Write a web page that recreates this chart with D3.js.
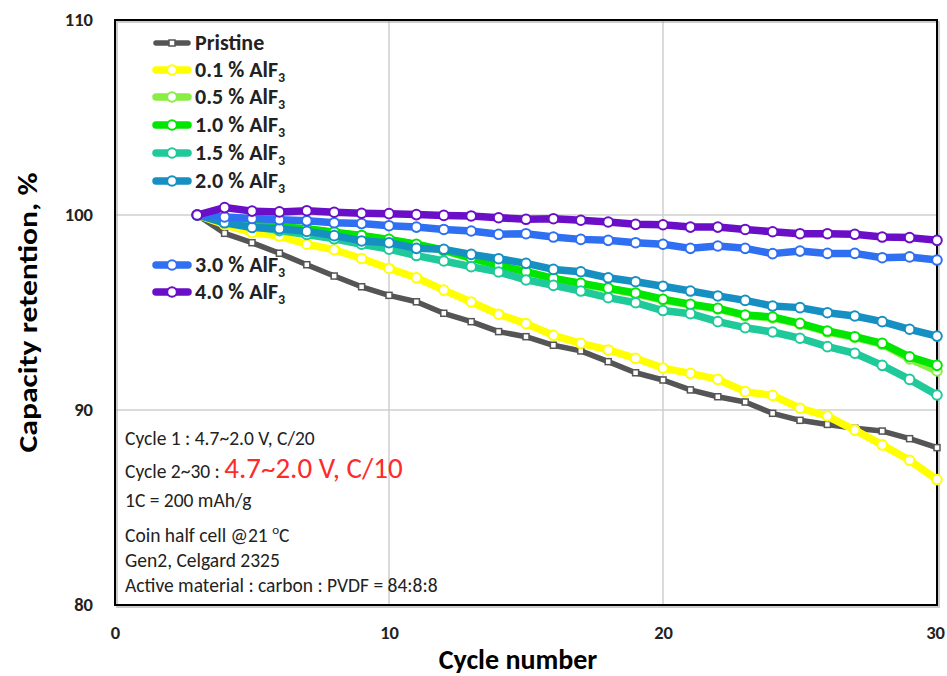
<!DOCTYPE html>
<html><head><meta charset="utf-8">
<script src="https://cdn.jsdelivr.net/npm/d3@7"></script>
<style>body{margin:0;background:#fff}svg{display:block}</style>
</head><body>
<script>
const cycles = d3.range(3, 31);
const pristine = [100,99.06,98.58,98.04,97.45,96.87,96.32,95.88,95.55,94.96,94.53,94.02,93.76,93.32,93.03,92.48,91.91,91.54,91.03,90.68,90.41,89.83,89.47,89.26,89.06,88.92,88.53,88.07];
const alf01 = [100,99.5,99.1,98.92,98.5,98.22,97.77,97.26,96.78,96.15,95.54,94.91,94.43,93.83,93.42,93.08,92.65,92.15,91.88,91.57,90.94,90.75,90.09,89.69,88.97,88.21,87.42,86.43];
const alf05 = [100,99.74,99.53,99.39,99.28,99.1,98.93,98.72,98.47,98.17,97.78,97.4,97.08,96.72,96.46,96.22,95.96,95.64,95.39,95.18,94.84,94.72,94.4,94.01,93.72,93.37,92.62,92.0];
const alf10 = [100,99.75,99.55,99.4,99.3,99.12,98.95,98.75,98.5,98.2,97.8,97.42,97.1,96.75,96.5,96.25,96.0,95.68,95.42,95.21,94.87,94.77,94.44,94.05,93.76,93.42,92.73,92.29];
const alf15 = [100,99.7,99.42,99.2,99.0,98.78,98.5,98.25,97.92,97.64,97.35,97.08,96.67,96.39,96.1,95.76,95.5,95.1,94.94,94.53,94.22,94.0,93.68,93.25,92.91,92.29,91.57,90.77];
const alf20 = [100,99.6,99.36,99.3,99.16,98.94,98.67,98.58,98.29,98.24,97.98,97.76,97.52,97.21,97.09,96.78,96.58,96.35,96.1,95.85,95.62,95.33,95.25,94.99,94.82,94.53,94.14,93.79];
const alf30 = [100,99.9,99.82,99.76,99.7,99.6,99.56,99.45,99.38,99.26,99.18,99.01,99.04,98.87,98.75,98.7,98.58,98.5,98.29,98.41,98.29,98.02,98.15,98.03,98.03,97.81,97.85,97.69];
const alf40 = [100,100.38,100.2,100.16,100.22,100.14,100.09,100.07,100.02,99.98,99.95,99.86,99.78,99.81,99.73,99.64,99.52,99.5,99.38,99.38,99.26,99.14,99.04,99.04,99.01,98.87,98.84,98.7];
const seriesNames = ["Pristine","0.1 % AlF","0.5 % AlF","1.0 % AlF","1.5 % AlF","2.0 % AlF","3.0 % AlF","4.0 % AlF"];
const seriesColors = ["#555555","#ffff00","#88ee44","#00e600","#1fc99a","#1690c2","#2f6ff2","#6a0ec8"];
const xTicks = [0,10,20,30];
const yTicks = [80,90,100,110];
const notes = ["Cycle 1 : 4.7~2.0 V, C/20","Cycle 2~30 : ","1C = 200 mAh/g","Coin half cell @21 ","Gen2, Celgard 2325","Active material : carbon : PVDF = 84:8:8"];
const redNote = "4.7~2.0 V, C/10";

const allData = [pristine,alf01,alf05,alf10,alf15,alf20,alf30,alf40];
const W = 947, H = 676;
const m = {l:115, t:20, r:937, b:605};
const FONT = "Carlito, Calibri, 'Open Sans', sans-serif";
const svg = d3.select("body").append("svg").attr("width",W).attr("height",H).style("font-family",FONT);
const x = d3.scaleLinear().domain([0,30]).range([m.l,m.r]);
const y = d3.scaleLinear().domain([80,110]).range([m.b,m.t]);

// gridlines
svg.append("g").selectAll("line").data([10,20]).join("line")
  .attr("x1",d=>x(d)).attr("x2",d=>x(d)).attr("y1",m.t).attr("y2",m.b)
  .attr("stroke","#cfcfcf").attr("stroke-width",1.5);
svg.append("g").selectAll("line").data([90,100]).join("line")
  .attr("y1",d=>y(d)).attr("y2",d=>y(d)).attr("x1",m.l).attr("x2",m.r)
  .attr("stroke","#cfcfcf").attr("stroke-width",1.5);

// shadow + frame
svg.append("rect").attr("x",m.l+2).attr("y",m.t+2).attr("width",m.r-m.l).attr("height",m.b-m.t)
  .attr("fill","none").attr("stroke","#999").attr("stroke-width",2).attr("opacity",0.5);
svg.append("rect").attr("x",m.l).attr("y",m.t).attr("width",m.r-m.l).attr("height",m.b-m.t)
  .attr("fill","none").attr("stroke","#000").attr("stroke-width",2);

// axes tick labels
const xAxis = d3.axisBottom(x).tickValues(xTicks).tickSize(0).tickPadding(0);
const gx = svg.append("g").attr("transform",`translate(0,${m.b+28})`).call(xAxis);
gx.select(".domain").remove();
gx.selectAll("text").attr("font-size",18.5).attr("font-weight","bold").attr("fill","#222").attr("font-family",FONT).attr("dy","0.35em");
gx.selectAll(".tick").filter(d=>d===30).select("text").attr("dx",-2);
const yAxis = d3.axisLeft(y).tickValues(yTicks).tickSize(0).tickPadding(0);
const gy = svg.append("g").attr("transform",`translate(${m.l-22},0)`).call(yAxis);
gy.select(".domain").remove();
gy.selectAll("text").attr("font-size",18.5).attr("font-weight","bold").attr("fill","#222").attr("font-family",FONT);

svg.append("text").attr("transform",`translate(37,${(m.t+m.b)/2}) rotate(-90)`)
  .attr("text-anchor","middle").attr("font-size",27).attr("font-weight","bold")
  .attr("textLength",280).attr("lengthAdjust","spacingAndGlyphs").text("Capacity retention, %");
svg.append("text").attr("x",518).attr("y",669).attr("text-anchor","middle")
  .attr("font-size",28).attr("font-weight","bold").text("Cycle number");

// series
const line = d3.line().x((d,i)=>x(cycles[i])).y(d=>y(d));
const plot = svg.append("g");
allData.forEach((data,k)=>{
  const g = plot.append("g");
  g.append("path").datum(data).attr("d",line).attr("fill","none")
    .attr("stroke",seriesColors[k]).attr("stroke-width",k===0?5.5:7.5).attr("stroke-linejoin","round");
  if(k===0){
    g.selectAll("rect").data(data).join("rect")
      .attr("x",(d,i)=>x(cycles[i])-3).attr("y",d=>y(d)-3).attr("width",6).attr("height",6)
      .attr("fill","#fff").attr("stroke",seriesColors[k]).attr("stroke-width",1.5);
  } else {
    g.selectAll("circle").data(data).join("circle")
      .attr("cx",(d,i)=>x(cycles[i])).attr("cy",d=>y(d)).attr("r",4.8)
      .attr("fill","#fff").attr("stroke",seriesColors[k]).attr("stroke-width",2);
  }
});

// legend
const legY = [43,70,97,125,153,181,265,292];
const leg = svg.append("g");
seriesNames.forEach((nm,k)=>{
  const g = leg.append("g").attr("transform",`translate(0,${legY[k]})`);
  g.append("line").attr("x1",156).attr("x2",188).attr("y1",0).attr("y2",0)
    .attr("stroke",seriesColors[k]).attr("stroke-width",k===0?5.5:7.5).attr("stroke-linecap","round");
  if(k===0) g.append("rect").attr("x",169).attr("y",-3).attr("width",6).attr("height",6)
    .attr("fill","#fff").attr("stroke",seriesColors[k]).attr("stroke-width",1.5);
  else g.append("circle").attr("cx",172).attr("cy",0).attr("r",4.8)
    .attr("fill","#fff").attr("stroke",seriesColors[k]).attr("stroke-width",2);
  const t = g.append("text").attr("x",195).attr("y",7).attr("font-size",22).attr("font-weight","bold").attr("fill","#222").text(nm);
  if(k>0) t.append("tspan").attr("font-size",14).attr("dy",5).text("3");
});

// notes
const noteY = [445,478,507,542,567,592];
const ng = svg.append("g").attr("font-size",19.5).attr("fill","#222");
notes.forEach((s,i)=>{
  const t = ng.append("text").attr("x",125).attr("y",noteY[i]).text(s);
  if(i===1) t.append("tspan").attr("font-size",29).attr("fill","#ff2a2a").text(redNote);
  if(i===3){ t.append("tspan").attr("font-size",13).attr("dy",-8).text("o"); t.append("tspan").attr("dy",8).text("C"); }
});
</script>
</body></html>
